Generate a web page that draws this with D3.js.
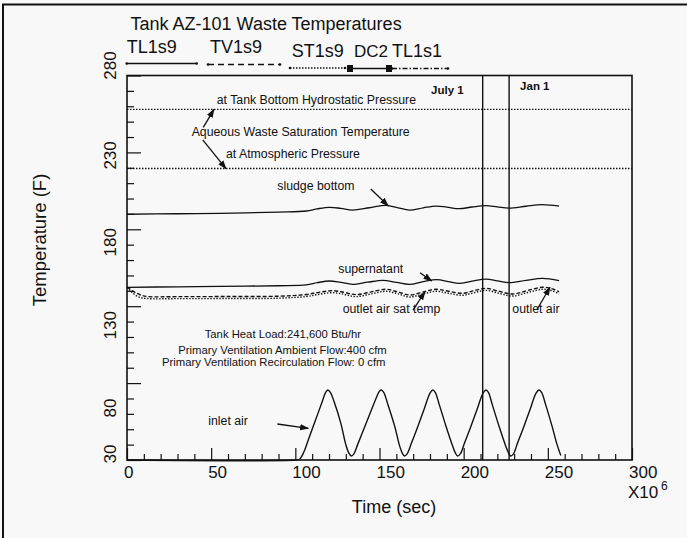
<!DOCTYPE html>
<html><head><meta charset="utf-8">
<script src="https://cdn.jsdelivr.net/npm/d3@7"></script>
<style>
html,body{margin:0;padding:0;background:#f8f8f8;}
svg{display:block;font-family:"Liberation Sans",Arial,Helvetica,sans-serif;}
</style></head><body>
<svg id="chart" width="687" height="538"></svg>
<script>
// ---------------- data ----------------
const xTicksMajor = [0, 50, 100, 150, 200, 250, 300];
const yTicksMajor = [30, 80, 130, 180, 230, 280];
const legendNames = ["TL1s9", "TV1s9", "ST1s9", "DC2", "TL1s1"];
const saturationLevels = [258, 219.5];          // hydrostatic, atmospheric (F)
const dateMarkers = [211.3, 227.0];             // July 1, Jan 1 (x10^6 s)
const dateLabels = ["July 1", "Jan 1"];

const sludgeBottom = [[0,189.8],[30,190.1],[55,190.4],[90,191.2],[106.5,191.9],[113,193.3],[120.3,194.3],[127,193.6],[134.1,192.5],[144,194],[153.9,195.6],[161,194],[167.8,192.5],[176,194],[183.6,195.1],[190,194.4],[197.4,193.4],[205,194.5],[213.2,195.4],[220,194.6],[227,193.8],[237,195],[246.8,196],[256.7,195]];
const supernatant = [[0,142.3],[30,142.6],[55,142.9],[90,143.3],[106.5,143.8],[113,145.3],[120.3,146.4],[127,145.5],[134.1,144.2],[143,145.6],[152,146.8],[160,145.5],[167.8,144.2],[176,146],[184,147.3],[191,146],[197.4,144.8],[205,146.3],[213.2,147.6],[220,146.5],[227,145.3],[237,146.8],[246.8,148.1],[256.7,146.6]];
const outletAir = [[0,142.5],[4,139.5],[8,137.3],[12,136.3],[30,136.2],[60,136.3],[90,136.5],[106.5,137.6],[114,139],[122.3,140.1],[129,139],[136.1,137.5],[145,139.3],[153.9,141],[161,139.3],[167.8,137.3],[176,139.3],[183.6,141],[191,139.7],[199.4,138.4],[206,140],[213.2,141.6],[221,139.7],[229,137.9],[238,140.2],[246.8,142.3],[252,141.5],[256.7,139.4]];
const outletAirSatTemp = [[0,142.3],[3,139],[7,136],[12,135],[30,134.9],[60,135],[90,135.2],[106.5,136.3],[114,137.7],[122.3,138.8],[129,137.7],[136.1,136.2],[145,138],[153.9,139.7],[161,138],[167.8,136],[176,138],[183.6,139.7],[191,138.4],[199.4,137.1],[206,138.7],[213.2,140.3],[221,138.4],[229,136.6],[238,138.9],[246.8,141],[252,140.2],[256.7,138.1]];
const inletAir = [[0,30],[100,30],[102.5,30.5],[105,35],[108,44],[112,56],[116,68],[118,74],[119.3,75.5],[120.8,74],[123,68],[127,54],[130,40],[131.8,34.5],[133.2,32.6],[134.8,34],[137,40],[141,51],[145,62],[148.5,71.5],[150,74.8],[151,75.5],[152.5,74],[155,66],[159,52],[162,39],[163.6,34.3],[164.8,32.6],[166.4,34],[169,41],[172.5,51],[176.5,63],[180,73.5],[181.6,75.5],[183.1,74],[185.5,66],[189.5,52],[193.5,39],[195.2,34.3],[196.4,32.6],[198,34],[200.5,41],[204,51],[208,63],[211.5,73.5],[213.2,75.5],[214.7,74],[217,66],[221,52],[225,39],[226.8,34.3],[228,32.6],[229.6,34],[232,41],[235.5,51],[239.5,63],[243,73.5],[244.8,75.5],[246.3,74],[248.7,66],[252.5,52],[255.5,40],[257.7,33]];

// annotations: [text, t, v, anchor]
const annotations = [
  ["at Tank Bottom Hydrostatic Pressure", 53.3, 261.5, "start"],
  ["Aqueous Waste Saturation Temperature", 38.4, 240.7, "start"],
  ["at Atmospheric Pressure", 58.8, 226.2, "start"],
  ["sludge bottom", 89.3, 205.6, "start"],
  ["supernatant", 125.5, 151.8, "start"],
  ["outlet air sat temp", 128.1, 125.8, "start"],
  ["outlet air", 228.9, 125.8, "start"],
  ["inlet air", 48.3, 52.8, "start"]
];
const loadNotes = [
  ["Tank Heat Load:241,600 Btu/hr", 92.6, 109.1],
  ["Primary Ventilation Ambient Flow:400 cfm", 92.4, 99.0],
  ["Primary Ventilation Recirculation Flow: 0 cfm", 87.2, 91.2]
];
// arrows: [t0, v0, t1, v1]
const arrows = [
  [45.3, 246.3, 51.7, 258],
  [45.0, 238.1, 58.8, 219.4],
  [144.8, 206.2, 155.2, 195.3],
  [174.1, 151.8, 181.0, 146.4],
  [169.9, 127.5, 177.0, 139.4],
  [243.4, 127.5, 251.3, 142.3],
  [89.3, 53.4, 107.7, 50.6]
];

// ---------------- layout ----------------
const svg = d3.select("#chart");
const W = 687, H = 538;
const m = {left: 127, top: 75.5, right: 55, bottom: 78};
const x = d3.scaleLinear().domain([0, 300]).range([m.left, W - m.right]);
const y = d3.scaleLinear().domain([30, 280]).range([H - m.bottom, m.top]);
const ink = "#111";
// pixel nudges of the rotated y tick labels, as placed in the original plot
const yLabelNudge = [-6, 25, 19, 13, 3, -10];

svg.append("rect").attr("width", W).attr("height", H).attr("fill", "#f8f8f8");
svg.append("path").attr("d", `M3,${H} L3,4.5 L${W},4.5`).attr("fill", "none").attr("stroke", ink).attr("stroke-width", 2);

const defs = svg.append("defs");
defs.append("marker").attr("id", "arr").attr("viewBox", "0 0 10 10").attr("refX", 9).attr("refY", 5)
  .attr("markerWidth", 7).attr("markerHeight", 7).attr("orient", "auto-start-reverse")
  .append("path").attr("d", "M0,1.5 L10,5 L0,8.5 Z").attr("fill", ink);

// title
svg.append("text").attr("x", 130.5).attr("y", 30).attr("font-size", 18).attr("fill", ink)
  .text("Tank AZ-101 Waste Temperatures");

// legend
const legendText = [[126.7, 53], [210, 53], [291.7, 56.5], [354, 56.5], [392, 56.5]];
const legendSize = [18, 18, 18, 17, 18];
const legendLine = [[126.7, 196.7, 63.5], [208, 280, 64.5], [290, 345, 68], [347, 392, 68.5], [392, 448, 68.5]];
const legendDash = [null, "6,4", "1.5,1.5", null, "5,2,1.5,2"];
legendNames.forEach((n, i) => {
  svg.append("text").attr("x", legendText[i][0]).attr("y", legendText[i][1]).attr("font-size", legendSize[i]).attr("fill", ink).text(n);
  const L = legendLine[i];
  svg.append("line").attr("x1", L[0]).attr("x2", L[1]).attr("y1", L[2]).attr("y2", L[2])
    .attr("stroke", ink).attr("stroke-width", 1.3).attr("stroke-dasharray", legendDash[i]);
  if (n === "DC2") {
    [L[0] + 3, L[1] - 3].forEach(cx => {
      svg.append("rect").attr("x", cx - 3).attr("y", L[2] - 3.5).attr("width", 6).attr("height", 7).attr("fill", ink);
    });
  } else {
    [L[0], L[1]].forEach(cx => svg.append("circle").attr("cx", cx).attr("cy", L[2]).attr("r", 1.3).attr("fill", ink));
  }
});

// plot frame
svg.append("rect").attr("x", x(0)).attr("y", y(280)).attr("width", x(300) - x(0)).attr("height", y(30) - y(280))
  .attr("fill", "none").attr("stroke", ink).attr("stroke-width", 1.6);

// axes ticks
const minorX = d3.range(0, 301, 10).filter(v => v % 50 !== 0);
const minorY = d3.range(30, 281, 10).filter(v => (v - 30) % 50 !== 0);
const gx = svg.append("g").attr("transform", `translate(0,${y(30)})`);
gx.call(d3.axisBottom(x).tickValues(xTicksMajor).tickSize(-12).tickFormat(""));
gx.append("g").call(d3.axisBottom(x).tickValues(minorX).tickSize(-6).tickFormat(""));
gx.selectAll(".domain").remove();
gx.selectAll("line").attr("stroke", ink).attr("stroke-width", 1.2);
const gy = svg.append("g").attr("transform", `translate(${x(0)},0)`);
gy.call(d3.axisLeft(y).tickValues(yTicksMajor).tickSize(-14).tickFormat(""));
gy.append("g").call(d3.axisLeft(y).tickValues(minorY).tickSize(-7).tickFormat(""));
gy.selectAll(".domain").remove();
gy.selectAll("line").attr("stroke", ink).attr("stroke-width", 1.2);

// tick labels
svg.append("g").selectAll("text").data(xTicksMajor).join("text")
  .attr("x", d => x(d) - 3).attr("y", y(30) + 18).attr("font-size", 17).attr("fill", ink).text(d => d);
svg.append("g").selectAll("text").data(yTicksMajor).join("text")
  .attr("transform", (d, i) => `translate(116,${y(d) + yLabelNudge[i]}) rotate(-90)`).attr("text-anchor", "middle")
  .attr("font-size", 17).attr("fill", ink).text(d => d);
// exponent
svg.append("text").attr("x", 628).attr("y", 498).attr("font-size", 17).attr("fill", ink).text("X10");
svg.append("text").attr("x", 661).attr("y", 490).attr("font-size", 12).attr("fill", ink).text("6");

// axis titles
svg.append("text").attr("x", 394).attr("y", 513).attr("text-anchor", "middle").attr("font-size", 18).attr("fill", ink).text("Time (sec)");
svg.append("text").attr("transform", `translate(46,240) rotate(-90)`).attr("text-anchor", "middle")
  .attr("font-size", 18.5).attr("fill", ink).text("Temperature (F)");

// saturation lines
svg.append("g").selectAll("line").data(saturationLevels).join("line")
  .attr("x1", x(0)).attr("x2", x(300)).attr("y1", d => y(d)).attr("y2", d => y(d))
  .attr("stroke", ink).attr("stroke-width", 1.4).attr("stroke-dasharray", "1.5,1.5");

// date markers
svg.append("g").selectAll("line").data(dateMarkers).join("line")
  .attr("x1", d => x(d)).attr("x2", d => x(d)).attr("y1", y(280)).attr("y2", y(30))
  .attr("stroke", ink).attr("stroke-width", 1.4);
svg.append("text").attr("x", x(dateMarkers[0]) - 19).attr("y", 94).attr("text-anchor", "end")
  .attr("font-size", 11.5).attr("font-weight", "bold").attr("fill", ink).text(dateLabels[0]);
svg.append("text").attr("x", x(dateMarkers[1]) + 11).attr("y", 90)
  .attr("font-size", 11.5).attr("font-weight", "bold").attr("fill", ink).text(dateLabels[1]);

// series
const line = d3.line().x(d => x(d[0])).y(d => y(d[1])).curve(d3.curveCatmullRom.alpha(0.5));
const series = [
  [sludgeBottom, null, 1.3],
  [supernatant, null, 1.3],
  [outletAir, "4,2", 1.4],
  [outletAirSatTemp, "1.4,1.6", 1.4],
  [inletAir, null, 1.4]
];
series.forEach(([d, dash, w]) => {
  svg.append("path").datum(d).attr("d", line).attr("fill", "none")
    .attr("stroke", ink).attr("stroke-width", w).attr("stroke-dasharray", dash);
});

// annotations
svg.append("g").selectAll("text").data(annotations).join("text")
  .attr("x", d => x(d[1])).attr("y", d => y(d[2])).attr("text-anchor", d => d[3])
  .attr("font-size", 12.3).attr("fill", ink).text(d => d[0]);
svg.append("g").selectAll("text").data(loadNotes).join("text")
  .attr("x", d => x(d[1])).attr("y", d => y(d[2])).attr("text-anchor", "middle")
  .attr("font-size", 11.3).attr("fill", ink).text(d => d[0]);
svg.append("g").selectAll("line").data(arrows).join("line")
  .attr("x1", d => x(d[0])).attr("y1", d => y(d[1])).attr("x2", d => x(d[2])).attr("y2", d => y(d[3]))
  .attr("stroke", ink).attr("stroke-width", 1.3).attr("marker-end", "url(#arr)");
</script>
</body></html>
